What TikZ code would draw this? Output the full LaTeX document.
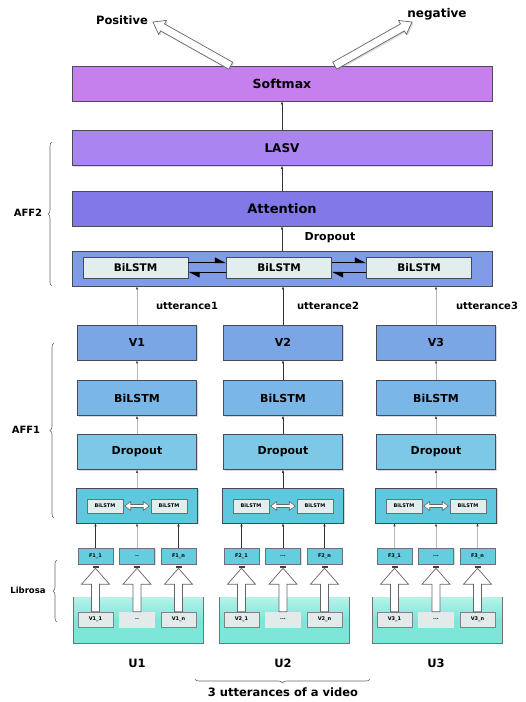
\documentclass[tikz,border=0pt]{standalone}
\usepackage{fontspec}
\setmainfont{DejaVu Sans}
\usetikzlibrary{arrows.meta,calc,shadows,decorations.pathreplacing}
\definecolor{csoft}{RGB}{198,128,238}
\definecolor{clasv}{RGB}{170,132,240}
\definecolor{catt}{RGB}{131,120,232}
\definecolor{caff}{RGB}{128,156,230}
\definecolor{cinner}{RGB}{226,238,238}
\definecolor{cv}{RGB}{123,166,230}
\definecolor{cbl}{RGB}{122,183,232}
\definecolor{cdr}{RGB}{125,200,230}
\definecolor{clow}{RGB}{95,200,222}
\definecolor{cf}{RGB}{100,206,222}
\definecolor{cu}{RGB}{125,230,216}
\definecolor{cvi}{RGB}{226,234,234}
\definecolor{boxline}{RGB}{70,75,85}
\newcommand\blkarrow[6][]{%
  \path (#2) coordinate (ba-b) (#3) coordinate (ba-t);
  \path ($(ba-t)!#6!(ba-b)$) coordinate (ba-h);
  \draw[#1] ($(ba-b)!#4!90:(ba-t)$) -- ($(ba-h)!#4!-90:(ba-b)$)
    -- ($(ba-h)!#5!-90:(ba-b)$) -- (ba-t) -- ($(ba-h)!#5!90:(ba-b)$)
    -- ($(ba-h)!#4!90:(ba-b)$) -- ($(ba-b)!#4!-90:(ba-t)$) -- cycle;}
\newcommand\dblarrow[3][]{%
  \path ($(#2)+(1.5,0)$) coordinate (da-l) ($(#3)+(-1.5,0)$) coordinate (da-r);
  \draw[#1] (da-l) -- ++(6,-4.5) -- ++(0,3) -- ($(da-r)+(-6,-1.5)$) -- ++(0,-3)
    -- (da-r) -- ++(-6,4.5) -- ++(0,-3) -- ($(da-l)+(6,1.5)$) -- ++(0,3) -- cycle;}
\begin{document}
\begin{tikzpicture}[x=1pt,y=-1pt,
  shad/.style={drop shadow={shadow xshift=1.3pt,shadow yshift=-1.3pt,opacity=0.3}},
  box/.style={draw=boxline,line width=0.6pt,inner sep=0pt,shad},
  wide/.style={box,minimum width=420pt,minimum height=35pt},
  colbox/.style={box,minimum width=119pt,minimum height=35pt,font=\fontsize{11}{13}\selectfont\bfseries},
  ibig/.style={draw=boxline,line width=0.6pt,fill=cinner,minimum width=105pt,minimum height=21pt,inner sep=0pt,font=\fontsize{10.5}{12}\selectfont\bfseries},
  sbox/.style={draw=boxline!80,line width=0.5pt,fill=cinner,minimum width=36pt,minimum height=14pt,inner sep=0pt,font=\fontsize{5}{6}\selectfont\bfseries},
  fbox/.style={draw=boxline!80,line width=0.5pt,fill=cf,minimum width=35pt,minimum height=16pt,inner sep=0pt,font=\fontsize{5}{6}\selectfont\bfseries,shad},
  vibox/.style={draw=boxline!70,line width=0.5pt,fill=cvi,minimum width=35pt,minimum height=15pt,inner sep=0pt,font=\fontsize{5}{6}\selectfont\bfseries},
  ubox/.style={inner sep=0pt,minimum width=130pt,minimum height=46pt,top color=cu!55!white,bottom color=cu,middle color=cu},
  dconn/.style={draw=black!80,line width=0.8pt,-{Latex[length=3pt,width=2.6pt]}},
  lconn/.style={draw=black!28,line width=0.8pt,-{Latex[length=3pt,width=2.6pt,color=black!70]}},
  harp/.style={line width=1.4pt,-{Triangle[harpoon,length=10pt,width=10pt]}},
  hollow/.style={draw=black!60,fill=white,line width=0.7pt,line join=miter},
  brc/.style={decorate,decoration={brace,amplitude=4pt},draw=black!60,line width=0.6pt},
  lbl/.style={font=\fontsize{10}{12}\selectfont\bfseries}]
\useasboundingbox (0,0) rectangle (526,702);

% top stack
\node[wide,fill=csoft,font=\fontsize{12.5}{14}\selectfont\bfseries] (softmax) at (282,83.5) {Softmax};
\node[wide,fill=clasv,font=\fontsize{12}{14}\selectfont\bfseries] (lasv) at (282,148) {LASV};
\node[wide,fill=catt,font=\fontsize{13}{15}\selectfont\bfseries] (att) at (282,208.5) {Attention};
\node[wide,fill=caff] (aff2) at (282,268.5) {};
\node[ibig] (b1) at (135.5,267.5) {BiLSTM};
\node[ibig] (b2) at (279,267.5) {BiLSTM};
\node[ibig] (b3) at (419,267.5) {BiLSTM};
\draw[harp] ([yshift=5pt]b1.east) -- ([yshift=5pt]b2.west);
\draw[harp] ([yshift=-5pt]b2.west) -- ([yshift=-5pt]b1.east);
\draw[harp] ([yshift=5pt]b2.east) -- ([yshift=5pt]b3.west);
\draw[harp] ([yshift=-5pt]b3.west) -- ([yshift=-5pt]b2.east);
\draw[dconn] (aff2) -- (att);
\draw[dconn] (att) -- (lasv);
\draw[dconn] (lasv) -- (softmax);
\node[font=\fontsize{11}{13}\selectfont\bfseries] (dl) at (330,238) {Dropout};

% outputs
\node[font=\fontsize{11.5}{13}\selectfont\bfseries] (pos) at (122,20) {Positive};
\node[font=\fontsize{12}{14}\selectfont\bfseries] (neg) at (437,14) {negative};
\coordinate (posb) at ($(softmax.north west)+(159,0)$);
\coordinate (post) at (153,22);
\coordinate (negb) at ($(softmax.north west)+(263,0)$);
\coordinate (negt) at (412,22);
\blkarrow[hollow,shad]{posb}{post}{4pt}{8pt}{11pt}
\blkarrow[hollow,shad]{negb}{negt}{4pt}{8pt}{11pt}

% utterance labels
\node[lbl] (ut1) at (187,306) {utterance1};
\node[lbl] (ut2) at (328,306) {utterance2};
\node[lbl] (ut3) at (487,306) {utterance3};

% columns
\foreach \i/\c/\k/\ka/\kb/\kc/\dd in {1/137/lconn/dconn/lconn/dconn/{..},2/283/dconn/dconn/dconn/dconn/{...},3/436/lconn/lconn/lconn/lconn/{...}} {
  \node[colbox,fill=cv] (v\i) at (\c,342.5) {V\i};
  \node[colbox,fill=cbl] (bl\i) at (\c,398) {BiLSTM};
  \node[colbox,fill=cdr] (dr\i) at (\c,452) {Dropout};
  \node[colbox,fill=clow,minimum width=121pt] (lc\i) at (\c,505.5) {};
  \node[sbox] (sa\i) at (\c-32,506) {BiLSTM};
  \node[sbox] (sb\i) at (\c+32,506) {BiLSTM};
  \dblarrow[hollow,line width=0.6pt]{sa\i.east}{sb\i.west}
  \node[fbox] (fa\i) at (\c-41.5,556) {F\i\_1};
  \node[fbox] (fb\i) at (\c,556) {\dd};
  \node[fbox] (fc\i) at (\c+41.5,556) {F\i\_n};
  \foreach \f in {fa,fb,fc} {
    \fill[black!75] ($(\f\i.south)+(-3,2)$) rectangle ++(6,2);
  }
  \node[ubox] (u\i) at (\c+1,620) {};
  \draw[draw=black!55,line width=0.6pt] (u\i.north west) -- (u\i.south west) -- (u\i.south east) -- (u\i.north east);
  \node[vibox] (va\i) at (\c-41.5,619.5) {V\i\_1};
  \node[vibox,draw=cvi] (vb\i) at (\c,619.5) {\dd};
  \node[vibox] (vc\i) at (\c+41.5,619.5) {V\i\_n};
  \foreach \f in {a,b,c} {
    \blkarrow[hollow]{v\f\i.north}{$(f\f\i.south)+(0,4)$}{4pt}{14pt}{16pt}
  }
  \draw[\k] (v\i) -- (v\i |- aff2.south);
  \draw[\k] (bl\i) -- (v\i);
  \draw[\k] (dr\i) -- (bl\i);
  \draw[\k] (lc\i) -- (dr\i);
  \draw[\ka] (fa\i) -- (fa\i |- lc\i.south);
  \draw[\kb] (fb\i) -- (fb\i |- lc\i.south);
  \draw[\kc] (fc\i) -- (fc\i |- lc\i.south);
  \node[font=\fontsize{11.5}{13}\selectfont\bfseries] (ul\i) at (\c,663) {U\i};
}

% braces and side labels
\draw[brc] (52,286) -- (52,142);
\node[lbl] (l2) at (28,213) {AFF2};
\draw[brc] (54,518) -- (54,343);
\node[lbl] (l1) at (26,430) {AFF1};
\draw[brc] (57,622) -- (57,560);
\node[font=\fontsize{8.5}{10}\selectfont\bfseries] (lib) at (28,590) {Librosa};
\draw[brc] (370,679) -- (195,679);
\node[font=\fontsize{11.5}{13}\selectfont\bfseries] (vid) at (283,692) {3 utterances of a video};
\end{tikzpicture}
\end{document}
